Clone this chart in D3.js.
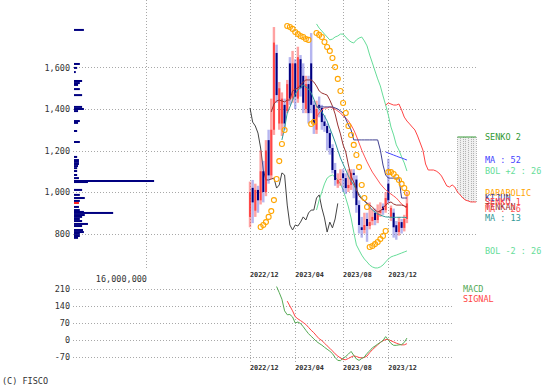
<!DOCTYPE html>
<html><head><meta charset="utf-8">
<script src="https://cdn.jsdelivr.net/npm/d3@7"></script>
<style>body{margin:0;background:#fff}svg{display:block}text{font-family:"DejaVu Sans Mono",monospace;font-size:8.5px}text.dt{font-size:6.8px;font-weight:bold}</style>
</head><body><svg id="c" width="548" height="387"></svg>
<script>
// ---------- DATA ----------
const startDate = "2022-12-05";
const priceTicks = [800,1000,1200,1400,1600];
const macdTicks = [210,140,70,0,-70];
const dateTickMonths = [12,4,8];
const volTick = 16000000;
const open  = [880,1020,910,1010,960,1100,1000,1250,1080,1300,1670,1330,1330,1420,1390,1620,1450,1620,1450,1640,1560,1400,1520,1620,1420,1300,1420,1405,1340,1318,1284,1212,1106,1040,1058,1090,1067,1019,1034,1092,1060,937,830,817,870,836,860,900,865,899,930,913,1040,880,900,840,807,855,827,870];
const high  = [1050,1058,1040,1030,1200,1150,1250,1300,1450,1795,1710,1530,1480,1450,1540,1650,1680,1640,1700,1660,1620,1560,1560,1766,1440,1440,1460,1420,1370,1330,1300,1230,1140,1090,1110,1110,1090,1110,1110,1110,1080,960,880,900,900,950,920,920,940,950,945,1000,1160,935,920,860,880,870,890,1000];
const low   = [830,850,880,900,940,950,980,1040,1060,1275,1430,1300,1270,1300,1380,1420,1430,1400,1430,1460,1380,1380,1330,1380,1280,1280,1360,1300,1290,1200,1180,1090,1030,1020,1030,1000,990,1000,1010,970,900,800,780,800,760,820,840,840,850,880,890,900,945,860,780,770,790,800,810,850];
const close = [1000,950,1010,960,1100,1000,1200,1080,1300,1720,1467,1500,1450,1330,1520,1450,1620,1460,1650,1500,1430,1520,1380,1420,1330,1400,1405,1337,1318,1284,1212,1106,1058,1058,1063,1067,1019,1034,1092,1082,937,841,817,841,836,855,880,865,899,913,913,971,960,923,830,807,855,827,870,945];
const ma13 = [null,null,null,null,null,null,null,null,null,null,null,null,1251,1308,1381,1410,1443,1472,1492,1501,1516,1506,1496,1477,1448,1414,1400,1386,1366,1342,1308,1275,1241,1202,1164,1135,1106,1077,1053,1034,1010,990,971,957,942,928,913,904,894,889,884,880,879,878,878,878,878,878,878,876];
const ma26 = [null,null,null,null,null,null,null,null,null,null,null,null,null,null,null,null,null,null,null,null,null,null,null,null,null,1361,1381,1395,1405,1405,1410,1405,1400,1390,1381,1366,1357,1342,1323,1299,1270,1236,1202,1173,1145,1120,1096,1077,1058,1039,1024,1010,1000,990,981,971,957,942,933,918];
const ma52 = [null,null,null,null,null,null,null,null,null,null,null,null,null,null,null,null,null,null,null,null,null,null,null,null,null,null,null,null,null,null,null,null,null,null,null,null,null,null,null,null,null,null,null,null,null,null,null,null,null,null,null,1193,1188,1183,1178,1173,1168,1164,1159,1154];
const bolUp = [null,null,null,null,null,null,null,null,null,null,null,null,null,null,null,null,null,null,null,null,null,null,null,null,null,1810,1790,1776,1761,1747,1733,1737,1747,1752,1761,1761,1747,1733,1723,1718,1733,1742,1747,1728,1704,1660,1622,1583,1545,1511,1463,1419,1371,1313,1275,1227,1202,1169,1140,1101];
const bolDn = [null,null,null,null,null,null,null,null,null,null,null,null,null,null,null,null,null,null,null,null,null,null,null,null,null,913,961,1000,1039,1067,1077,1082,1072,1058,1039,1010,971,928,875,807,745,720,696,677,663,648,639,634,634,639,648,663,677,687,692,696,701,706,711,716];
const tenkan = [null,null,null,null,null,null,null,null,1386,1424,1439,1443,1439,1434,1443,1443,1487,1496,1501,1516,1530,1540,1540,1540,1530,1511,1487,1477,1472,1467,1443,1414,1376,1323,1280,1227,1193,1130,1077,1048,1014,981,966,957,947,937,928,913,904,908,923,937,947,952,942,937,937,937,933,928];
const kijun = [null,null,null,null,null,null,null,null,null,null,null,null,null,null,null,null,null,null,null,null,null,null,null,null,null,1410,1410,1410,1410,1410,1410,1410,1405,1400,1390,1381,1352,1323,1299,1251,1251,1251,1251,1251,1251,1251,1251,1251,1251,1202,1130,1082,1067,1067,1067,1067,1067,971,971,971];
const senko1 = [1419,1429,1424,1419,1419,1424,1395,1361,1342,1328,1313,1299,1270,1236,1202,1135,1106,1106,1106,1101,1092,1077,1053,1029,1024,1034,1024,1000,986,971,961,957,952,952,952]; // index 51..85
const senko1Start = 51;
const senko2 = [1265,1265,1265,1265,1265,1265,1265,1265]; // index 78..85
const senko2Start = 78;
const chikou = [1405,1337,1318,1284,1212,1106,1058,1058,1063,1067,1019,1034,1092,1082,937,841,817,841,836,855,880,865,899,913,913,971,986,923,875,807,855,827,870,945]; // index 0..33
const sar = [null,null,null,null,831,841,855,880,908,961,1063,1149,1231,1299,1800,1795,1786,1771,1761,1752,1747,1737,1733,1328,1337,1766,1757,1747,1723,1699,1680,1646,1602,1545,1487,1429,1381,1318,1275,1227,1178,1120,1034,971,928,735,740,749,759,773,788,812,1096,1096,1087,1072,1058,1039,1019,995];
const macd = [null,null,null,null,null,null,null,null,null,null,220,195,168,120,104,105,95,70,74,68,55,40,26,15,5,-6,-14,-21,-30,-38,-46,-56,-72,-84,-85,-75,-68,-58,-47,-63,-78,-84,-76,-70,-55,-45,-32,-25,-17,-10,-2,14,0,-14,-22,-22,-20,-19,-10,8];
const signal = [null,null,null,null,null,null,null,null,null,null,null,null,null,null,160,140,120,96,87,80,72,64,52,40,30,17,5,-2,-13,-24,-34,-45,-57,-66,-74,-80,-81,-76,-70,-65,-68,-72,-74,-72,-66,-52,-40,-30,-20,-10,-3,2,2,-3,-8,-13,-17,-20,-20,-15];
const profilePrice = [1781,1617,1598,1578,1535,1525,1516,1496,1467,1410,1400,1390,1342,1333,1294,1241,1169,1154,1145,1135,1125,1115,1101,1082,1067,1053,1048,1010,986,971,957,947,928,913,904,899,889,880,870,860,846,836,817,807,798,788,779];
const profileVol = [2.2,1.3,0.7,0.4,1.8,1.3,0.9,1.3,1.8,1.8,2.2,0.9,1.3,0.9,0.7,1.3,0.7,1.1,1.1,1.1,0.9,0.7,0.7,0.7,1.1,17.8,3.1,1.8,1.3,2.4,1.3,1.1,1.1,1.3,2.2,8.7,2.4,1.8,1.3,1.8,3.1,1.8,2.0,2.2,1.3,1.3,0.9]; // millions
const currentPrice = 947;

// ---------- SCALES ----------
const svg = d3.select("#c");
const N = close.length;
const x = d3.scaleLinear().domain([0,85]).range([250,476.1]);
const y = d3.scaleLinear().domain([624.1,1925.3]).range([270,0]);
const ym = d3.scaleLinear().domain([-70,210]).range([357,289]);
const xv = d3.scaleLinear().domain([0,volTick]).range([74,146]);
const grid = "#a8a8a8";

// date ticks
const t0 = new Date(startDate+"T00:00:00Z");
const dateTicks = [];
for (let k=0;k<N;k++){
  const d = new Date(t0.getTime()+k*7*864e5);
  const m = d.getUTCMonth()+1;
  const prev = new Date(d.getTime()-7*864e5);
  if (dateTickMonths.includes(m) && (k===0 || prev.getUTCMonth()+1!==m))
    dateTicks.push({k, label: d.getUTCFullYear()+"/"+String(m).padStart(2,"0")});
}

// ---------- GRID ----------
const g = svg.append("g");
g.selectAll(".hg").data(priceTicks).join("line")
  .attr("x1",73).attr("x2",477).attr("y1",d=>Math.round(y(d))+0.5).attr("y2",d=>Math.round(y(d))+0.5)
  .attr("stroke",grid).attr("stroke-dasharray","1,2");
g.selectAll(".vg").data([xv(volTick)].concat(dateTicks.map(d=>x(d.k)))).join("line")
  .attr("x1",d=>Math.round(d)+0.5).attr("x2",d=>Math.round(d)+0.5).attr("y1",0).attr("y2",270)
  .attr("stroke",grid).attr("stroke-dasharray","1,2");
g.selectAll(".ml").data(macdTicks).join("line")
  .attr("x1",73).attr("x2",453).attr("y1",d=>Math.round(ym(d))+0.5).attr("y2",d=>Math.round(ym(d))+0.5)
  .attr("stroke",grid).attr("stroke-dasharray","1,2");
g.selectAll(".mv").data(dateTicks).join("line")
  .attr("x1",d=>Math.round(x(d.k))+0.5).attr("x2",d=>Math.round(x(d.k))+0.5).attr("y1",283).attr("y2",363)
  .attr("stroke",grid).attr("stroke-dasharray","1,2");

// axis labels
const txt = "#333";
g.selectAll(".pl").data(priceTicks).join("text").attr("x",70).attr("y",d=>y(d)+3)
  .attr("text-anchor","end").attr("fill",txt).text(d=>d3.format(",")(d));
g.selectAll(".mlab").data(macdTicks).join("text").attr("x",70).attr("y",d=>ym(d)+3)
  .attr("text-anchor","end").attr("fill",txt).text(d=>d);
g.selectAll(".dl").data(dateTicks).join("text").attr("class","dt").attr("x",d=>x(d.k)).attr("y",277).attr("fill",txt).text(d=>d.label);
g.selectAll(".dl2").data(dateTicks).join("text").attr("class","dt").attr("x",d=>x(d.k)).attr("y",370).attr("fill",txt).text(d=>d.label);
g.append("text").attr("x",147).attr("y",282).attr("text-anchor","end").attr("fill",txt).text(d3.format(",")(volTick));
g.append("text").attr("x",2).attr("y",384).attr("fill",txt).text("(C) FISCO");

// ---------- VOLUME PROFILE ----------
svg.selectAll(".vp").data(profilePrice).join("rect")
  .attr("x",xv(0)).attr("y",d=>y(d)-1).attr("height",2)
  .attr("width",(d,i)=>xv(profileVol[i]*1e6)-xv(0))
  .attr("fill",d=>d===currentPrice?"#ff2020":"#000080");

// ---------- CLOUD ----------
const cloud = [];
for (let k=senko2Start;k<=85;k++) cloud.push({k, a: senko1[k-senko1Start], b: senko2[k-senko2Start]});
svg.append("path").datum(cloud).attr("fill","#f0f0f0")
  .attr("d",d3.area().x(d=>x(d.k)).y0(d=>y(d.a)).y1(d=>y(d.b)));
svg.selectAll(".cl").data(cloud).join("line")
  .attr("x1",d=>Math.round(x(d.k))+0.5).attr("x2",d=>Math.round(x(d.k))+0.5)
  .attr("y1",d=>y(d.a)).attr("y2",d=>y(d.b)).attr("stroke","#b0b0b0").attr("stroke-dasharray","1,1");

// ---------- LINES ----------
svg.append("clipPath").attr("id","cp").append("rect").attr("x",73).attr("y",0).attr("width",410).attr("height",271);
const main = svg.append("g").attr("clip-path","url(#cp)");
function drawLine(arr, start, color, w){
  const pts = arr.map((v,i)=>({k:i+start,v}));
  main.append("path").datum(pts).attr("fill","none").attr("stroke",color).attr("stroke-width",w||1)
    .attr("d",d3.line().defined(d=>d.v!=null).x(d=>x(d.k)).y(d=>y(d.v)));
}
drawLine(chikou,0,"#444444");
drawLine(bolUp,0,"#66dd99");
drawLine(bolDn,0,"#66dd99");
drawLine(senko1,senko1Start,"#ff4444");
drawLine(senko2,senko2Start,"#339933");

// candles
const up = i=>close[i]>=open[i];
main.selectAll(".wk").data(close).join("rect")
  .attr("x",(d,i)=>x(i)-1.2).attr("width",2.4)
  .attr("y",(d,i)=>y(high[i])).attr("height",(d,i)=>Math.max(1,y(low[i])-y(high[i])))
  .attr("fill",(d,i)=>up(i)?"rgba(255,70,70,0.5)":"rgba(90,90,220,0.45)");
main.selectAll(".bd").data(close).join("rect")
  .attr("x",(d,i)=>x(i)-1).attr("width",2)
  .attr("y",(d,i)=>y(Math.max(open[i],close[i]))).attr("height",(d,i)=>Math.max(1,Math.abs(y(open[i])-y(close[i]))))
  .attr("fill",(d,i)=>up(i)?"rgba(255,40,40,0.75)":"#000080");

drawLine(ma13,0,"#339999");
drawLine(ma26,0,"#ff5555");
drawLine(ma52,0,"#4444ff");
drawLine(tenkan,0,"#993333");
drawLine(kijun,0,"#404090");

main.selectAll(".sar").data(sar.map((v,i)=>({v,i})).filter(d=>d.v!=null)).join("circle")
  .attr("cx",d=>x(d.i)).attr("cy",d=>y(d.v)).attr("r",2.5)
  .attr("fill","none").attr("stroke","#ffa500").attr("stroke-width",1.1);

// legend labels at last values
const last = a=>{for(let i=a.length-1;i>=0;i--) if(a[i]!=null) return a[i];};
const labels = [
  {t:"SENKO 2", v:last(senko2), c:"#339933"},
  {t:"MA : 52", v:last(ma52), c:"#4444ff"},
  {t:"BOL +2 : 26", v:last(bolUp), c:"#66dd99"},
  {t:"PARABOLIC", v:last(sar), c:"#ffa500"},
  {t:"KIJUN", v:last(kijun), c:"#404090"},
  {t:"TENKAN", v:last(tenkan), c:"#993333"},
  {t:"SENKO 1", v:last(senko1), c:"#ff4444"},
  {t:"MA : 26", v:last(ma26), c:"#ff5555"},
  {t:"MA : 13", v:last(ma13), c:"#339999"},
  {t:"BOL -2 : 26", v:last(bolDn), c:"#66dd99"}
];
svg.selectAll(".lg").data(labels).join("text").attr("x",485).attr("y",d=>y(d.v)+3)
  .attr("fill",d=>d.c).text(d=>d.t);

// ---------- MACD ----------
function drawM(arr,color){
  const pts = arr.map((v,i)=>({k:i,v}));
  svg.append("path").datum(pts).attr("fill","none").attr("stroke",color).attr("stroke-width",1)
    .attr("d",d3.line().defined(d=>d.v!=null).x(d=>x(d.k)).y(d=>ym(d.v)));
}
drawM(signal,"#ff4444");
drawM(macd,"#55aa55");
svg.append("text").attr("x",463).attr("y",292).attr("fill","#55aa55").text("MACD");
svg.append("text").attr("x",463).attr("y",302).attr("fill","#ff4444").text("SIGNAL");
</script></body></html>
